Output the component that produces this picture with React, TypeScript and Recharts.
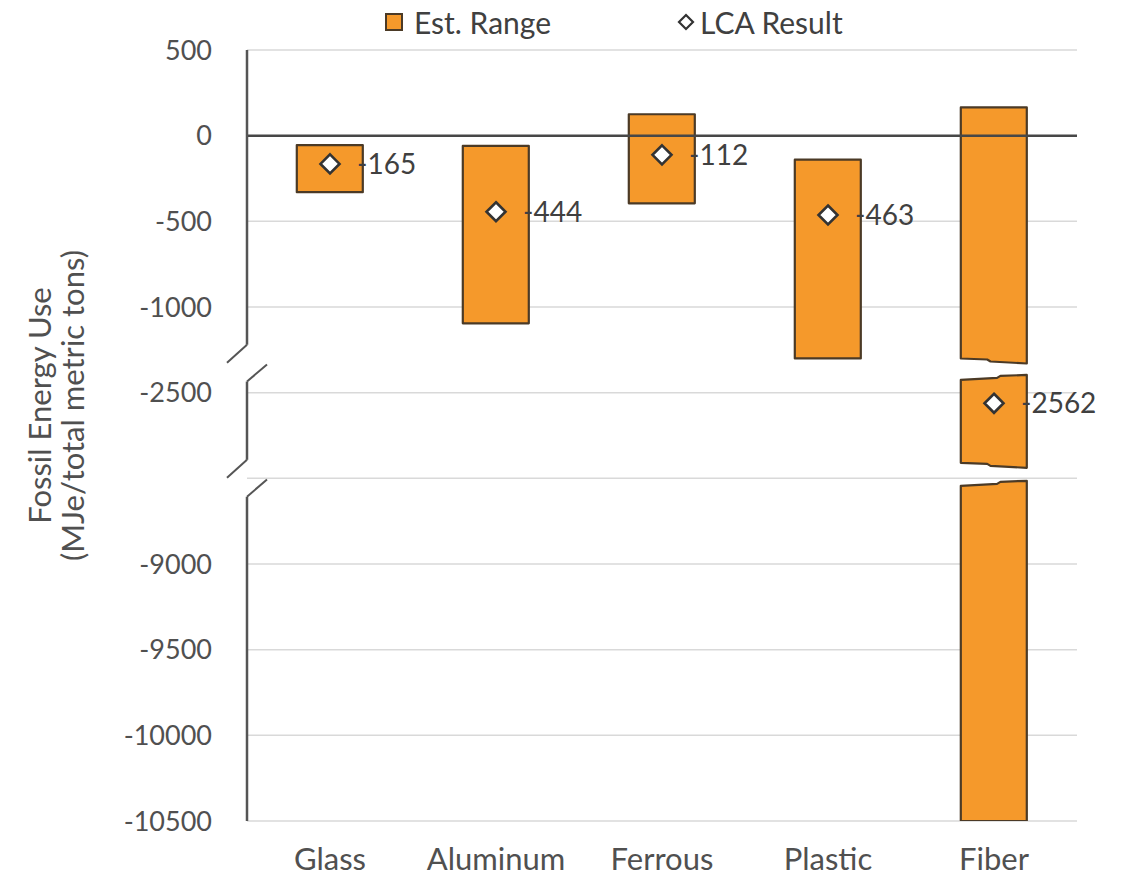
import React from 'react';
import {
  ComposedChart,
  Bar,
  Line,
  XAxis,
  YAxis,
  CartesianGrid,
  ReferenceLine,
  Legend,
  LabelList,
} from 'recharts';

const categories = ['Glass', 'Aluminum', 'Ferrous', 'Plastic', 'Fiber'];
const rangeLow = [-330, -1095, -395, -1300, -10500];
const rangeHigh = [-55, -60, 125, -140, 165];
const lcaResult = [-165, -444, -112, -463, -2562];

// tick values on the broken axis; -8500 only gets a gridline
const tickValues = [500, 0, -500, -1000, -2500, -8500, -9000, -9500, -10000, -10500];
const unlabeledTicks = [-8500];

// the value axis is cut twice; each piece is shifted so the pieces stack together
const axisPieces = [
  { top: 500, bottom: -1318, shift: 0 },
  { top: -2414, bottom: -2927, shift: 1000 },
  { top: -8532, bottom: -10500, shift: 6500 },
];
// levels where the axis line is broken by the slash marks
const axisCutLevels = [-1220, -2892];

const ORANGE = '#F5992B';
const EDGE = '#4B3A26';
const AXIS = '#555555';
const TEXT = '#505050';

const toV = (r: number) => {
  for (let i = 0; i < axisPieces.length - 1; i++) {
    if (r > (axisPieces[i].bottom + axisPieces[i + 1].top) / 2) return r + axisPieces[i].shift;
  }
  return r + axisPieces[axisPieces.length - 1].shift;
};

const fromV = (v: number) => {
  for (let i = 0; i < axisPieces.length - 1; i++) {
    const lo = axisPieces[i].bottom + axisPieces[i].shift;
    const hi = axisPieces[i + 1].top + axisPieces[i + 1].shift;
    if (v > (lo + hi) / 2) return v - axisPieces[i].shift;
  }
  return v - axisPieces[axisPieces.length - 1].shift;
};

const rows = categories.map((name, i) => ({
  name,
  low: rangeLow[i],
  high: rangeHigh[i],
  lca: lcaResult[i],
}));

const barGaps = axisPieces.slice(0, -1).map((p, i) => ({
  top: p.bottom + p.shift,
  bottom: axisPieces[i + 1].top + axisPieces[i + 1].shift,
}));

const yDomain: [number, number] = [toV(-10500), toV(500)];
const yTicks = tickValues.map(toV);

// floating bar, split with a jagged cut wherever it crosses an axis break
const RangeShape = (props: any) => {
  const { x, y, width: w, height: h, payload } = props;
  const vHi = toV(payload.high);
  const vLo = toV(payload.low);
  const pix = (v: number) => y + ((vHi - v) / (vHi - vLo)) * h;

  const pieces: { t: number; b: number; cutT: boolean; cutB: boolean }[] = [];
  let curTop = vHi;
  let cutT = false;
  barGaps.forEach((g) => {
    if (g.top < curTop && g.bottom > vLo) {
      pieces.push({ t: curTop, b: g.top, cutT, cutB: true });
      curTop = g.bottom;
      cutT = true;
    }
  });
  pieces.push({ t: curTop, b: vLo, cutT, cutB: false });

  return (
    <g>
      {pieces.map((p, i) => {
        const yt = pix(p.t);
        const yb = pix(p.b);
        const top = p.cutT
          ? [[x, yt + 2], [x + 0.55 * w, yt], [x + 0.6 * w, yt - 2], [x + w, yt - 3]]
          : [[x, yt], [x + w, yt]];
        const bottom = p.cutB
          ? [[x + w, yb + 2], [x + 0.45 * w, yb], [x + 0.4 * w, yb - 2], [x, yb - 3]]
          : [[x + w, yb], [x, yb]];
        const pts = [...top, ...bottom].map((q) => q.join(',')).join(' ');
        return (
          <polygon
            key={i}
            points={pts}
            fill={ORANGE}
            stroke={EDGE}
            strokeWidth={2.2}
            strokeLinejoin="round"
          />
        );
      })}
    </g>
  );
};

const Diamond = (props: any) => {
  const { cx, cy, index } = props;
  if (cx == null || cy == null) return null;
  const r = 9.5;
  return (
    <path
      key={`d-${index}`}
      d={`M${cx},${cy - r} L${cx + r},${cy} L${cx},${cy + r} L${cx - r},${cy} Z`}
      fill="#fff"
      stroke="#333"
      strokeWidth={2.6}
    />
  );
};

const ValueLabel = (props: any) => {
  const vb = props.viewBox || {};
  const x = vb.x ?? props.x;
  const y = vb.y ?? props.y;
  return (
    <text x={x + 27} y={y} dy="0.35em" fontSize={28} fill="#404040">
      {String(props.value)}
    </text>
  );
};

// axis title plus the value axis line drawn in pieces with break slashes
const AxisDecor = (props: any) => {
  const vb = props.viewBox || { x: 0, y: 42, width: 239, height: 771 };
  const ax = vb.x + vb.width;
  const yOf = (v: number) => vb.y + ((yDomain[1] - v) / (yDomain[1] - yDomain[0])) * vb.height;
  const cut = axisCutLevels.map(toV);
  const lines: [number, number][] = [
    [yDomain[1], cut[0]],
    [cut[0] - 215, cut[1]],
    [cut[1] - 215, yDomain[0]],
  ];
  const cy = vb.y + vb.height / 2 - 30;
  return (
    <g>
      {lines.map(([a, b], i) => (
        <line key={`a-${i}`} x1={ax} x2={ax} y1={yOf(a)} y2={yOf(b)} stroke={AXIS} strokeWidth={2.5} />
      ))}
      {cut.map((c, i) => (
        <g key={`s-${i}`} stroke={AXIS} strokeWidth={2}>
          <line x1={ax} y1={yOf(c)} x2={ax - 20} y2={yOf(c - 105)} />
          <line x1={ax + 20} y1={yOf(c - 115)} x2={ax} y2={yOf(c - 215)} />
        </g>
      ))}
      <g fill={TEXT} fontSize={31} textAnchor="middle">
        <text x={vb.x + 32} y={cy} dy="0.35em" transform={`rotate(-90 ${vb.x + 32} ${cy})`}>
          Fossil Energy Use
        </text>
        <text x={vb.x + 65} y={cy} dy="0.35em" transform={`rotate(-90 ${vb.x + 65} ${cy})`}>
          (MJe/total metric tons)
        </text>
      </g>
    </g>
  );
};

const LegendBox = () => (
  <div style={{ position: 'relative', height: 42, fontSize: 30, color: '#404040' }}>
    <div style={{ position: 'absolute', left: 377, top: 0, height: 28, display: 'flex', alignItems: 'center' }}>
      <span
        style={{
          display: 'inline-block',
          width: 14,
          height: 14,
          background: ORANGE,
          border: `2px solid ${EDGE}`,
          marginRight: 11,
        }}
      />
      Est. Range
    </div>
    <div style={{ position: 'absolute', left: 669, top: 0, height: 28, display: 'flex', alignItems: 'center' }}>
      <svg width={18} height={18} style={{ marginRight: 5 }}>
        <path d="M9,2 L16,9 L9,16 L2,9 Z" fill="#fff" stroke="#333" strokeWidth={2.2} />
      </svg>
      LCA Result
    </div>
  </div>
);

const App: React.FC = () => {
  return (
    <div
      style={{
        position: 'absolute',
        left: 0,
        top: 0,
        width: 1127,
        height: 878,
        overflow: 'hidden',
        fontFamily: 'Lato, sans-serif',
      }}
    >
      <div style={{ position: 'absolute', left: 8, top: 8 }}>
        <ComposedChart
          width={1111}
          height={870}
          data={rows}
          margin={{ top: 0, right: 42, bottom: 0, left: 0 }}
          barCategoryGap="30%"
        >
          <CartesianGrid vertical={false} stroke="#D9D9D9" strokeWidth={1.5} />
          <XAxis
            dataKey="name"
            tickLine={false}
            axisLine={false}
            tickSize={0}
            tickMargin={27}
            height={57}
            tick={{ fontSize: 31, fill: TEXT }}
          />
          <YAxis
            type="number"
            domain={yDomain}
            ticks={yTicks}
            interval={0}
            allowDataOverflow
            width={239}
            tickLine={false}
            axisLine={false}
            tickSize={0}
            tickMargin={35}
            tick={{ fontSize: 27, fill: TEXT }}
            tickFormatter={(v: number) => {
              const r = fromV(v);
              return unlabeledTicks.includes(r) ? '' : String(r);
            }}
            label={{ content: (p: any) => <AxisDecor {...p} /> }}
          />
          <Legend verticalAlign="top" align="left" content={() => <LegendBox />} />
          <Bar
            dataKey={(d: any) => [toV(d.low), toV(d.high)]}
            shape={(p: any) => <RangeShape {...p} />}
            isAnimationActive={false}
          />
          <ReferenceLine y={0} stroke="#474747" strokeWidth={2.5} />
          <Line
            dataKey={(d: any) => toV(d.lca)}
            stroke="none"
            dot={(p: any) => <Diamond {...p} />}
            activeDot={false}
            isAnimationActive={false}
          >
            <LabelList dataKey="lca" content={(p: any) => <ValueLabel {...p} />} />
          </Line>
        </ComposedChart>
      </div>
    </div>
  );
};

export default App;
